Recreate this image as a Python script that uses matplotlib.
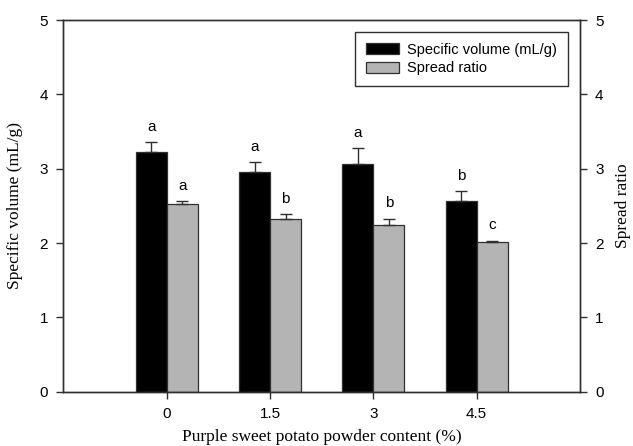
import numpy as np
import matplotlib
matplotlib.use("Agg")
import matplotlib.pyplot as plt

# powder content categories
content = ["0", "1.5", "3", "4.5"]
spec_vol = [3.22, 2.96, 3.07, 2.56]
spec_vol_err = [0.14, 0.13, 0.21, 0.14]
spec_vol_letters = ["a", "a", "a", "b"]
spread = [2.53, 2.33, 2.24, 2.01]
spread_err = [0.03, 0.06, 0.09, 0.02]
spread_letters = ["a", "b", "b", "c"]

sans = "Liberation Sans"
serif = "Liberation Serif"

fig = plt.figure(figsize=(6.33, 4.46), dpi=100)
ax = fig.add_axes([0.1003, 0.1217, 0.8157, 0.8333])

x = np.arange(len(content))
w = 0.3
edge = "#303030"
b1 = ax.bar(x - w / 2, spec_vol, w, color="black", edgecolor=edge, linewidth=0.9,
            yerr=[np.zeros(len(x)), spec_vol_err], capsize=4,
            error_kw=dict(ecolor=edge, elinewidth=1.0, capthick=1.0),
            label="Specific volume (mL/g)", zorder=2)
b2 = ax.bar(x + w / 2, spread, w, color="#b4b4b4", edgecolor=edge, linewidth=0.9,
            yerr=[np.zeros(len(x)), spread_err], capsize=4,
            error_kw=dict(ecolor=edge, elinewidth=1.0, capthick=1.0),
            label="Spread ratio", zorder=2)

for xi, v, e, t in zip(x - w / 2, spec_vol, spec_vol_err, spec_vol_letters):
    ax.annotate(t, (xi, v + e), xytext=(0, 6), textcoords="offset points",
                ha="center", va="bottom", fontsize=11, family=sans)
for xi, v, e, t in zip(x + w / 2, spread, spread_err, spread_letters):
    ax.annotate(t, (xi, v + e), xytext=(0, 6), textcoords="offset points",
                ha="center", va="bottom", fontsize=11, family=sans)

ax.set_xlim(-1, 4)
ax.set_ylim(0, 5)
ax.set_xticks(x)
ax.set_xticklabels(content)
ax.set_yticks(range(6))
for lab in ax.get_xticklabels() + ax.get_yticklabels():
    lab.set_family(sans)
    lab.set_fontsize(11)
ax.tick_params(direction="out", length=5, width=1, color=edge, pad=6)
ax.set_xlabel("Purple sweet potato powder content (%)", family=serif, fontsize=12.5, labelpad=6)
ax.set_ylabel("Specific volume (mL/g)", family=serif, fontsize=12.5, labelpad=12)
for s in ax.spines.values():
    s.set_linewidth(1)
    s.set_color(edge)

ax2 = ax.twinx()
ax2.set_ylim(0, 5)
ax2.set_yticks(range(6))
for lab in ax2.get_yticklabels():
    lab.set_family(sans)
    lab.set_fontsize(11)
ax2.tick_params(direction="out", length=5, width=1, color=edge, pad=6)
ax2.set_ylabel("Spread ratio", family=serif, fontsize=12.5, labelpad=8)
for s in ax2.spines.values():
    s.set_linewidth(1)
    s.set_color(edge)

leg = ax.legend(handles=[b1, b2], loc="upper right", bbox_to_anchor=(0.977, 0.968),
                prop=dict(family=sans, size=10.5), fancybox=False, edgecolor=edge,
                framealpha=1, handlelength=2.3, handleheight=0.8, borderpad=0.75,
                labelspacing=0.3, handletextpad=0.55, borderaxespad=0)
leg.get_frame().set_linewidth(1)

fig.savefig("out.png", dpi=100)
